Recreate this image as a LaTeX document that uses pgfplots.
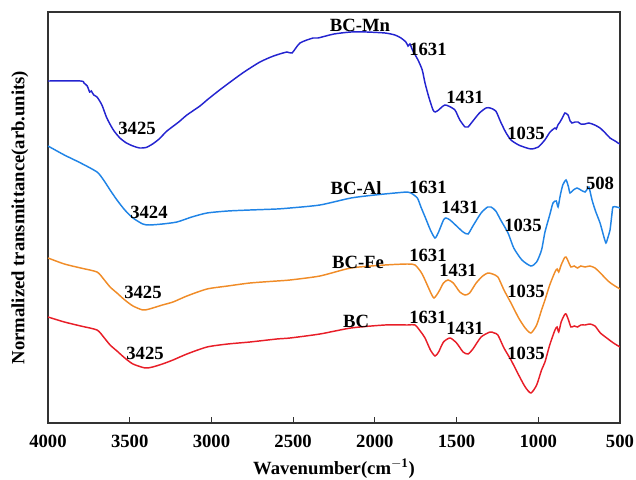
\documentclass[border=0pt]{standalone}
\usepackage{fontspec}
\setmainfont{Liberation Serif}
\usepackage{pgfplots}
\pgfplotsset{compat=1.18}
\definecolor{cMn}{RGB}{36,36,208}
\definecolor{cAl}{RGB}{32,132,230}
\definecolor{cFe}{RGB}{240,140,40}
\definecolor{cBC}{RGB}{232,30,40}
\begin{document}
\begin{tikzpicture}
\useasboundingbox (0,0) rectangle (477pt,359.25pt);
\begin{axis}[
  at={(36pt,42pt)}, anchor=south west,
  scale only axis, width=429pt, height=308.25pt,
  x dir=reverse, xmin=500, xmax=4000, ymin=0, ymax=411,
  xtick={500,1000,...,4000}, ytick=\empty,
  xtick pos=bottom, tick align=inside,
  major tick length=4.5pt,
  every tick/.style={black!80, line width=0.9pt},
  axis line style={black!80, line width=1.1pt},
  /pgf/number format/assume math mode=true,
  /pgf/number format/1000 sep={},
  every tick label/.append style={font=\fontsize{14}{16}\selectfont\bfseries},
  xticklabel shift=5.5pt,
  xlabel={Wavenumber(cm$^{\mathbf{-1}}$)},
  ylabel={Normalized transmittance(arb.units)},
  every axis x label/.style={at={(axis description cs:0.5,-0.112)}, anchor=center, font=\fontsize{14}{16}\selectfont\bfseries},
  every axis y label/.style={at={(axis description cs:-0.049,0.5)}, rotate=90, anchor=center, font=\fontsize{14}{16}\selectfont\bfseries},
  every axis plot/.append style={line width=1.1pt, smooth, tension=0.4},
  clip=true,
]
% BC-Mn
\addplot[cMn] coordinates {
(4000,342)(3800,342)(3780,340)(3760,337)(3745,331)(3735,332)(3720,328)(3700,326)
(3670,318)(3640,305)(3600,293)(3560,285)(3520,280)(3480,277)(3440,275)(3400,275.5)
(3360,279)(3320,284)(3272,292)(3200,301)(3150,308)(3070,317)(3027,323)(2950,333)
(2868,343)(2800,351)(2703,361)(2620,367)(2538,371)(2507,370)(2458,380)(2378,385)
(2348,385)(2250,389)(2146,391)(2050,391)(1938,390)(1877,388)(1840,385)(1810,381)
(1797,377)(1785,379)(1770,373)(1736,363)(1710,353)(1693,340)(1670,326)(1644,313)
(1630,311)(1610,313)(1590,316)(1571,318)(1550,317)(1510,313)(1480,303)(1448,296)
(1430,296)(1400,302)(1360,310)(1320,315)(1295,315)(1260,312)(1230,301)(1200,291)
(1167,283)(1120,278)(1070,275)(1040,274)(1000,276)(960,283)(928,291)(898,295)
(890,294)(880,298)(867,301)(850,306)(837,310)(818,308)(805,302)(794,300)(775,301)
(757,301)(740,299)(714,299)(690,300)(655,298)(622,295)(590,290)(561,285)(530,282)(512,280)(500,279)
};
% BC-Al
\addplot[cAl] coordinates {
(4000,277)(3900,268)(3800,260)(3700,251)(3660,243)(3620,233)(3578,223)(3530,213)
(3480,205)(3420,199)(3380,198)(3300,199)(3211,201)(3120,206)(3027,210)(2900,212)
(2764,213)(2600,214)(2519,215)(2336,218)(2146,225)(2000,228)(1877,230)(1800,231)
(1779,230)(1740,225)(1718,216)(1690,205)(1660,193)(1632,185)(1610,191)(1580,203)
(1565,205)(1540,203)(1500,197)(1460,191)(1430,189)(1400,197)(1350,210)(1310,216)
(1289,216)(1260,212)(1230,203)(1185,190)(1150,175)(1100,163)(1045,157)(1010,161)
(980,173)(959,191)(930,208)(910,220)(890,222)(879,216)(865,228)(850,238)(830,243)
(815,236)(806,230)(785,233)(763,235)(740,233)(714,231)(700,234)(690,236)(671,223)
(650,212)(622,200)(600,187)(586,180)(575,185)(561,193)(550,208)(543,216)(520,216)(500,215)
};
% BC-Fe
\addplot[cFe] coordinates {
(4000,165)(3900,159)(3800,155)(3700,151)(3660,144)(3620,136)(3578,130)(3530,123)
(3480,117)(3420,113)(3380,114)(3300,118)(3235,121)(3150,127)(3027,134)(2900,137)
(2764,140)(2600,142)(2519,143)(2336,147)(2146,155)(1938,158)(1800,159)(1754,158)
(1718,151)(1693,143)(1660,131)(1638,125)(1610,131)(1580,140)(1552,143)(1520,140)
(1480,131)(1448,128)(1420,130)(1380,140)(1340,147)(1308,150)(1280,149)(1247,146)
(1210,133)(1167,120)(1120,105)(1080,95)(1045,90)(1010,98)(980,113)(959,123)
(930,138)(898,151)(885,154)(875,151)(860,158)(840,165)(830,166)(815,161)(800,156)
(780,157)(760,155)(740,157)(714,156)(684,157)(653,155)(620,150)(573,142)(540,138)(500,134)
};
% BC
\addplot[cBC] coordinates {
(4000,106)(3900,101)(3800,97)(3700,93)(3660,86)(3620,78)(3578,72)(3530,65)
(3480,59)(3406,55)(3360,56)(3300,59)(3235,63)(3150,69)(3027,76)(2900,79)
(2764,81)(2600,84)(2519,85)(2336,89)(2146,95)(1938,98)(1800,98)(1754,98)
(1718,91)(1693,85)(1660,73)(1632,67)(1610,71)(1580,81)(1540,85)(1500,80)
(1460,71)(1430,69)(1400,74)(1350,86)(1295,91)(1270,90)(1247,88)(1210,75)
(1167,63)(1120,48)(1080,36)(1045,30)(1010,38)(980,53)(959,61)(930,78)(898,93)
(885,96)(875,91)(860,101)(840,108)(830,109)(815,103)(800,96)(780,97)(760,96)
(740,98)(714,98)(684,99)(653,97)(620,90)(573,84)(540,80)(500,76)
};
\begin{scope}[every node/.style={font=\fontsize{14}{16}\selectfont\bfseries, inner sep=0pt}]
\node at (axis cs:2091,398) {BC-Mn};
\node at (axis cs:1675,374) {1631};
\node at (axis cs:1448,326) {1431};
\node at (axis cs:1075,290) {1035};
\node at (axis cs:3455,295) {3425};
\node at (axis cs:3382,211) {3424};
\node at (axis cs:2115,235) {BC-Al};
\node at (axis cs:1675,236) {1631};
\node at (axis cs:1479,216) {1431};
\node at (axis cs:1094,198) {1035};
\node at (axis cs:622,240) {508};
\node at (axis cs:2103,161) {BC-Fe};
\node at (axis cs:1675,168) {1631};
\node at (axis cs:1491,153) {1431};
\node at (axis cs:1075,132) {1035};
\node at (axis cs:3419,131) {3425};
\node at (axis cs:2115,102) {BC};
\node at (axis cs:1675,106) {1631};
\node at (axis cs:1448,95) {1431};
\node at (axis cs:1075,70) {1035};
\node at (axis cs:3406,70) {3425};
\end{scope}
\end{axis}
\end{tikzpicture}
\end{document}
